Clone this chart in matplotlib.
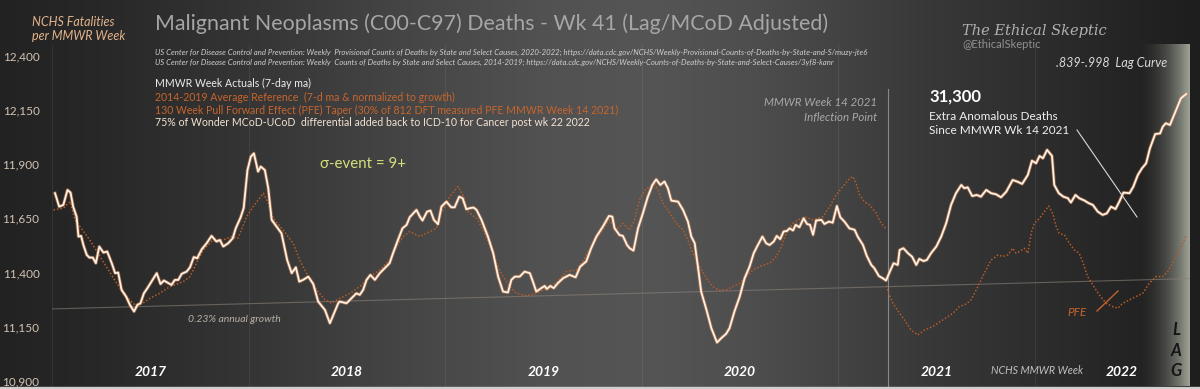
import numpy as np
import matplotlib.pyplot as plt
from matplotlib.lines import Line2D
from matplotlib.patches import Rectangle

plt.rcParams['font.family'] = ['Lato', 'DejaVu Sans']

# MMWR week index from week 1 of 2017
actual_weeks = [0.8, 1.9, 3.0, 4.1, 4.9, 5.6, 6.5, 7.0, 7.7, 8.3, 9.2, 9.9, 10.8, 11.6, 12.5, 13.6, 14.6, 15.8,
                16.7, 17.5, 18.4, 19.6, 20.6, 21.7, 22.6, 23.4, 24.3, 25.2, 26.3, 27.7, 28.7, 29.6, 30.8, 31.6,
                32.5, 33.4, 34.3, 35.6, 36.5, 37.5, 38.4, 39.6, 40.9, 42.2, 43.5, 44.4, 45.3, 46.6, 47.8, 48.6,
                49.9, 50.7, 51.7, 52.6, 53.4, 54.5, 55.2, 56.3, 57.2, 58.1, 59.4, 60.7, 62.2, 63.4, 64.5, 65.4,
                66.4, 67.8, 69.1, 70.4, 72.2, 73.5, 74.4, 75.7,
                76.1, 77.9, 79.2, 80.5, 81.4, 82.3, 83.2, 84.2, 85.4, 86.7, 88.0, 89.3, 90.2, 91.5, 92.7, 93.8,
                94.6, 96.4, 97.3, 98.0, 99.2, 100.1, 101.0, 102.1, 103.0, 104.3, 105.6, 106.5, 107.7, 108.6,
                109.6, 110.5, 111.5, 112.3, 113.6, 115.3, 116.7, 118.0, 119.3, 120.6, 121.5, 122.4, 123.7,
                125.0, 126.4, 127.2, 128.1, 129.4, 130.3, 130.9, 131.8, 132.7, 133.8, 135.2, 136.9, 138.5,
                139.7, 141.3, 142.6, 144.0, 145.7, 147.3, 148.2, 148.8, 150.1, 151.0, 152.1,
                152.8, 153.8, 155.0, 156.3, 157.6, 158.8, 159.8, 160.9, 162.0, 162.9, 163.8, 165.6, 166.9,
                168.2, 169.1, 170.0, 170.9, 171.7, 173.1, 174.4, 175.9, 177.0, 178.3, 179.2, 180.5, 181.9,
                183.2, 184.5, 185.6, 186.7, 187.9, 188.9, 189.8, 190.9, 191.7, 192.6, 193.5, 194.4, 195.1,
                196.0, 196.7, 197.7, 198.8, 199.7, 200.5, 201.3, 202.1, 203.5, 204.3, 205.5, 206.5, 207.6,
                208.5, 209.6, 210.9, 212.3, 213.1, 214.5, 215.5, 216.7, 217.5, 218.7, 219.7, 220.6, 221.5,
                222.6, 223.7,
                224.2, 225.2, 226.4, 227.5, 228.6, 229.4, 230.5, 231.4, 232.5, 233.9, 235.2, 236.5, 237.8,
                239.1, 240.5, 241.3, 242.2, 243.4, 244.6, 245.7, 247.1, 248.4, 249.7, 251.0, 252.4, 254.1,
                255.4, 256.6, 258.1, 259.2, 260.3, 261.2, 262.1, 263.2, 264.5, 265.1, 266.3, 267.5, 268.7,
                269.5, 270.7, 271.7, 273.1, 274.2, 275.3, 276.6, 277.9, 279.0, 280.1, 281.3, 282.3, 283.4,
                285.0, 286.0, 287.2, 288.3, 289.4, 290.4, 291.8, 293.1, 293.8, 294.6, 295.7, 296.6, 297.5,
                298.6, 300.0]
actual_vals = [11766, 11704, 11712, 11781, 11769, 11704, 11658, 11566, 11569, 11527, 11481, 11469, 11469, 11443,
               11520, 11492, 11497, 11443, 11397, 11400, 11320, 11289, 11251, 11220, 11251, 11258, 11304, 11327,
               11358, 11397, 11347, 11363, 11351, 11343, 11366, 11366, 11394, 11404, 11424, 11471, 11466, 11507,
               11535, 11569, 11543, 11550, 11520, 11535, 11558, 11604, 11655, 11697, 11873, 11935, 11950, 11866,
               11889, 11873, 11789, 11643, 11612, 11581, 11458, 11397, 11424, 11358, 11366, 11381, 11347, 11266,
               11227, 11166, 11204, 11258,
               11266, 11258, 11281, 11304, 11297, 11320, 11366, 11389, 11366, 11397, 11420, 11443, 11489, 11550,
               11604, 11620, 11655, 11689, 11658, 11640, 11681, 11686, 11643, 11623, 11704, 11727, 11701, 11701,
               11750, 11743, 11692, 11697, 11700, 11689, 11643, 11566, 11489, 11381, 11312, 11308, 11366, 11381,
               11381, 11404, 11397, 11358, 11312, 11328, 11338, 11324, 11338, 11328, 11351, 11374, 11389, 11378,
               11427, 11451, 11512, 11566, 11612, 11661, 11658, 11604, 11573, 11569, 11527,
               11512, 11501, 11604, 11674, 11750, 11804, 11830, 11804, 11820, 11789, 11732, 11727, 11689, 11635,
               11566, 11535, 11420, 11312, 11228, 11143, 11077, 11097, 11117, 11143, 11220, 11289, 11374, 11427,
               11489, 11527, 11566, 11535, 11527, 11543, 11569, 11554, 11589, 11592, 11604, 11594, 11620, 11609,
               11650, 11624, 11620, 11574, 11640, 11643, 11624, 11635, 11630, 11707, 11655, 11635, 11604, 11597,
               11566, 11527, 11477, 11435, 11420, 11384, 11374, 11363, 11400, 11443, 11435,
               11504, 11512, 11489, 11473, 11435, 11463, 11453, 11458, 11489, 11520, 11566, 11627, 11712, 11766,
               11804, 11789, 11793, 11753, 11758, 11750, 11781, 11766, 11761, 11747, 11773, 11827, 11819, 11809,
               11850, 11916, 11904, 11938, 11927, 11966, 11938, 11804, 11766, 11750, 11743, 11723, 11758, 11743,
               11732, 11720, 11712, 11681, 11666, 11673, 11704, 11693, 11727, 11769, 11766, 11796, 11850, 11881,
               11904, 11973, 12039, 12042, 12073, 12089, 12081, 12119, 12158, 12204, 12224]

ref_weeks = [0.4, 3.0, 4.8, 6.1, 7.4, 10.0, 12.7, 14.9, 17.1, 19.7, 21.9, 23.7, 25.9, 28.5, 31.2, 34.7, 36.5, 38.2,
             40.0, 42.6, 45.3, 47.5, 49.2, 51.5, 53.2, 55.9, 57.2, 58.5, 61.1, 63.8, 65.5, 67.8, 70.0, 72.2, 74.0,
             76.1, 78.8, 81.4, 84.1, 86.7, 89.3, 91.1, 92.9, 94.6, 97.3, 99.0, 101.7, 103.0, 105.2, 107.4, 108.7,
             110.0, 112.3, 114.0, 115.8, 117.5, 119.3, 121.1, 122.8, 125.5, 128.1, 130.8, 133.4, 136.0, 138.7,
             140.4, 143.1, 145.7, 147.3, 149.3, 151.0,
             152.8, 154.1, 155.4, 156.8, 158.1, 159.4, 160.3, 161.6, 163.4, 165.1, 166.9, 168.2, 169.5, 171.3,
             173.1, 174.8, 176.6, 178.3, 180.1, 181.9, 183.6, 185.4, 187.6, 189.8, 191.6, 192.9, 194.2, 196.0,
             197.7, 199.5, 201.3, 203.9, 205.7, 207.4, 209.2, 211.0, 211.8, 212.7, 213.6, 214.9, 216.2, 218.0,
             219.3, 220.5]
ref_vals = [11689, 11697, 11727, 11643, 11612, 11550, 11474, 11412, 11351, 11289, 11251, 11255, 11281, 11304,
            11335, 11358, 11381, 11443, 11504, 11550, 11550, 11566, 11558, 11658, 11704, 11766, 11720, 11650,
            11597, 11535, 11458, 11381, 11320, 11274, 11258,
            11281, 11304, 11335, 11381, 11412, 11458, 11520, 11566, 11589, 11566, 11581, 11604, 11673, 11750,
            11797, 11758, 11681, 11650, 11597, 11527, 11443, 11381, 11335, 11304, 11292, 11304, 11328, 11351,
            11404, 11412, 11451, 11535, 11597, 11643, 11597, 11627,
            11597, 11643, 11735, 11781, 11797, 11804, 11781, 11720, 11674, 11627, 11597, 11550, 11489, 11427,
            11374, 11335, 11317, 11320, 11335, 11351, 11381, 11412, 11431, 11443, 11474, 11520, 11581, 11627,
            11646, 11655, 11643, 11658, 11704, 11758, 11797, 11835, 11843, 11812, 11758, 11727, 11712, 11674,
            11627, 11604]

pfe_weeks = [220.8, 221.1, 222.4, 224.2, 225.5, 227.2, 229.0, 230.8, 233.0, 235.6, 238.3, 240.0, 241.8, 243.1,
             244.9, 246.6, 248.4, 250.2, 251.5, 252.8, 254.1, 255.0, 255.9, 257.2, 258.1, 259.0, 259.8, 261.2,
             262.5, 263.6, 264.7, 265.6, 266.4, 267.8, 269.1, 270.4, 271.7, 272.6, 273.9, 275.3, 277.0, 278.8,
             280.5, 281.9, 283.2, 285.0, 286.7, 288.5, 290.2, 292.0, 293.8, 295.1, 296.4, 297.7, 299.1, 300.1]
pfe_vals = [11340, 11312, 11258, 11212, 11181, 11135, 11112, 11135, 11151, 11181, 11212, 11243, 11255, 11274,
            11335, 11397, 11458, 11481, 11474, 11481, 11512, 11489, 11497, 11512, 11489, 11581, 11627, 11650,
            11681, 11707, 11673, 11612, 11581, 11573, 11535, 11504, 11489, 11450, 11381, 11343, 11297, 11258,
            11243, 11235, 11258, 11274, 11289, 11304, 11350, 11381, 11381, 11404, 11443, 11489, 11535, 11573]

trend_weeks = [0, 301]
trend_vals = [11232, 11372]

year_starts = [0, 52, 104, 156, 208, 260]
year_labels = ['2017', '2018', '2019', '2020', '2021', '2022']
year_label_weeks = [26, 78, 130, 182, 234, 283]
inflection_week = 221
yticks = [10900, 11150, 11400, 11650, 11900, 12150, 12400]

W, H = 1200, 389
fig = plt.figure(figsize=(12, 3.89), dpi=100)


def fx(x):
    return x / W


def fy(y):
    return 1 - y / H


# background gradient
bg = fig.add_axes([0, 0, 1, 1])
xs = np.linspace(0, W, 600)
g = np.interp(xs, [0, 100, 250, 400, 550, 650, 750, 850, 950, 1050, 1150, 1200],
              [0x22, 0x28, 0x35, 0x45, 0x52, 0x55, 0x4e, 0x42, 0x36, 0x2c, 0x22, 0x1e]) / 255
bg.imshow(np.stack([g, g, g], axis=-1)[None], aspect='auto', extent=[0, 1, 0, 1])
bg.axis('off')

# lag box
lag = fig.add_axes([fx(1135), fy(386.5), fx(1190) - fx(1135), (386.5 - 44) / H])
t = np.linspace(0, 1, 200)
rgba = np.zeros((1, 200, 4))
rgba[..., 0], rgba[..., 1], rgba[..., 2] = 0.72, 0.74, 0.68
rgba[0, :, 3] = t ** 2 * 0.85
lag.imshow(rgba, aspect='auto', extent=[0, 1, 0, 1])
lag.axis('off')

ax = fig.add_axes([fx(52), fy(386.5), fx(1190) - fx(52), (386.5 - 45) / H])
ax.patch.set_alpha(0)
ax.set_xlim(0, 301)
ax.set_ylim(10874, 12450)
for s in ax.spines.values():
    s.set_visible(False)
ax.set_xticks([])
ax.set_yticks(yticks)
ax.set_yticklabels([f'{v:,}' for v in yticks])
ax.tick_params(axis='y', length=0, pad=9, labelcolor='#d2c3b4', labelsize=8.5)

for w in year_starts:
    ax.axvline(w, color='white', alpha=0.07, lw=0.8, clip_on=False)
ax.axvline(inflection_week, ymax=0.871, color='#c8c8c8', alpha=0.55, lw=0.8)

ax.plot(trend_weeks, trend_vals, color='#8e837a', lw=0.8, alpha=0.6)
ax.plot(ref_weeks, ref_vals, color='#b85c28', lw=1.1, ls=(0, (1, 1.3)))
ax.plot(pfe_weeks, pfe_vals, color='#b85c28', lw=1.1, ls=(0, (1, 1.3)))
ax.plot(actual_weeks, actual_vals, color='#d98650', lw=2.5, alpha=0.55)
ax.plot(actual_weeks, actual_vals, color='#fff1e4', lw=1.3)

xt = ax.get_xaxis_transform()
for w, lab in zip(year_label_weeks, year_labels):
    ax.text(w, 0.042, lab, transform=xt, ha='center', va='center', color='white',
            fontsize=10, fontweight='bold', fontstyle='italic')

# pointer lines
fig.add_artist(Line2D([fx(1077), fx(1137)], [fy(130), fy(217)], color='#d8d8d8', lw=0.8))
fig.add_artist(Line2D([fx(1097), fx(1118)], [fy(311), fy(291)], color='#c0642e', lw=1))
fig.add_artist(Rectangle((0, 0), 1, 2.5 / H, transform=fig.transFigure, color='#cfcfcf'))

fig.text(fx(32), fy(22), 'NCHS Fatalities', color='#e3b48c', fontsize=9, fontstyle='italic', va='center')
fig.text(fx(32), fy(36), 'per MMWR Week', color='#e3b48c', fontsize=9, fontstyle='italic', va='center')
fig.text(fx(155), fy(24), 'Malignant Neoplasms (C00-C97) Deaths - Wk 41 (Lag/MCoD Adjusted)',
         color='#a6a6a6', fontsize=15.4, va='center')
fig.text(fx(155), fy(52), 'US Center for Disease Control and Prevention: Weekly  Provisional Counts of Deaths by State '
         'and Select Causes, 2020-2022; https://data.cdc.gov/NCHS/Weekly-Provisional-Counts-of-Deaths-by-State-and-S/muzy-jte6',
         color='#cfcfcf', fontsize=5.6, fontstyle='italic', va='center')
fig.text(fx(155), fy(62), 'US Center for Disease Control and Prevention: Weekly  Counts of Deaths by State and Select '
         'Causes, 2014-2019; https://data.cdc.gov/NCHS/Weekly-Counts-of-Deaths-by-State-and-Select-Causes/3yf8-kanr',
         color='#cfcfcf', fontsize=5.6, fontstyle='italic', va='center')
fig.text(fx(155), fy(83), 'MMWR Week Actuals (7-day ma)', color='#ececec', fontsize=7.6, va='center')
fig.text(fx(155), fy(97), '2014-2019 Average Reference  (7-d ma & normalized to growth)', color='#c7652c',
         fontsize=7.6, va='center')
fig.text(fx(155), fy(110), '130 Week Pull Forward Effect (PFE) Taper (30% of 812 DFT measured PFE MMWR Week 14 2021)',
         color='#c7652c', fontsize=7.6, va='center')
fig.text(fx(155), fy(123), '75% of Wonder MCoD-UCoD  differential added back to ICD-10 for Cancer post wk 22 2022',
         color='#f2e2d2', fontsize=7.6, va='center')
fig.text(fx(320), fy(164), 'σ-event = 9+', color='#d6df7c', fontsize=10.8, va='center')
fig.text(fx(188), fy(319), '0.23% annual growth', color='#b8b0a8', fontsize=7.5, fontstyle='italic', va='center')
fig.text(fx(877), fy(103), 'MMWR Week 14 2021', color='#a8a8a8', fontsize=8.3, fontstyle='italic',
         ha='right', va='center')
fig.text(fx(877), fy(118), 'Inflection Point', color='#a8a8a8', fontsize=8.3, fontstyle='italic',
         ha='right', va='center')
fig.text(fx(929), fy(97), '31,300', color='white', fontsize=12, fontweight='bold', va='center')
fig.text(fx(929), fy(116), 'Extra Anomalous Deaths', color='#f0f0f0', fontsize=8.5, va='center')
fig.text(fx(929), fy(131), 'Since MMWR Wk 14 2021', color='#f0f0f0', fontsize=8.5, va='center')
fig.text(fx(962), fy(31), 'The Ethical Skeptic', color='#b0b0b0', fontsize=10.5, family='DejaVu Serif',
         fontstyle='italic', va='center')
fig.text(fx(962), fy(44), '@EthicalSkeptic', color='#909090', fontsize=8, va='center')
fig.text(fx(1167), fy(63), '.839-.998  Lag Curve', color='#d8d8d8', fontsize=9, fontstyle='italic',
         ha='right', va='center')
fig.text(fx(1067), fy(313), 'PFE', color='#c7652c', fontsize=8.5, fontstyle='italic', va='center')
fig.text(fx(1037), fy(371), 'NCHS MMWR Week', color='#c0c0c0', fontsize=7.7, fontstyle='italic',
         ha='center', va='center')
for y, ch in zip([330, 351, 371], 'LAG'):
    fig.text(fx(1176), fy(y), ch, color='#151515', fontsize=12, fontweight='bold', fontstyle='italic',
             ha='center', va='center')

fig.savefig('out.png', dpi=100)
